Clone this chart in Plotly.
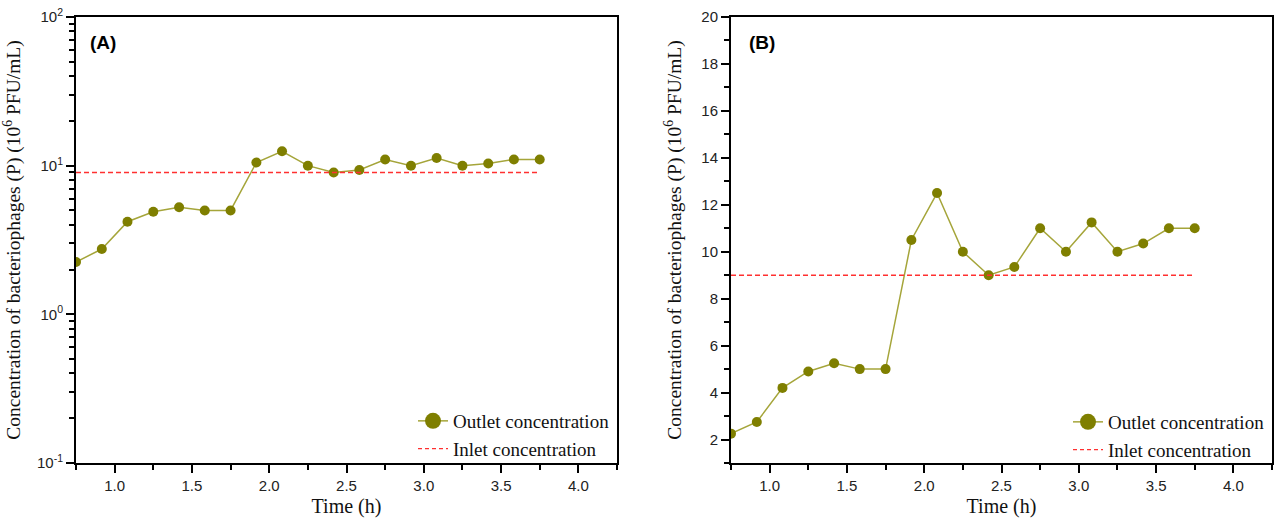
import plotly.graph_objects as go

# ---- data ----
time_h = [0.75, 0.917, 1.083, 1.25, 1.417, 1.583, 1.75, 1.917, 2.083, 2.25,
          2.417, 2.583, 2.75, 2.917, 3.083, 3.25, 3.417, 3.583, 3.75]
outlet = [2.25, 2.75, 4.2, 4.9, 5.25, 5.0, 5.0, 10.5, 12.5, 10.0,
          9.0, 9.35, 11.0, 10.0, 11.25, 10.0, 10.35, 11.0, 11.0]
inlet_time = [0.75, 3.75]
inlet = [9.0, 9.0]

log_tickvals = [0.1, 1, 10, 100]
log_ticktext = ["10<sup>-1</sup>", "10<sup>0</sup>", "10<sup>1</sup>", "10<sup>2</sup>"]
log_minor = [m * d for d in (0.1, 1, 10) for m in range(2, 10)]

# ---- styles ----
MARK = "#7f7f00"
LINE = "#a5a53a"
RED = "#ff3030"
SERIF = "Liberation Serif"
SANS = "Liberation Sans"
W, H = 1274, 520
ML, MR, MT, MB = 76, 2, 17, 57
PW, PH = W - ML - MR, H - MT - MB

def px_x(p):
    return (p - ML) / PW

def px_y(p):
    return (H - MB - p) / PH

fig = go.Figure()

for xa, ya, leg in (("x", "y", "legend"), ("x2", "y2", "legend2")):
    fig.add_trace(go.Scatter(x=time_h, y=outlet, mode="lines+markers", xaxis=xa, yaxis=ya,
                             line=dict(color=LINE, width=1.5),
                             marker=dict(color=MARK, size=10), showlegend=False))
    fig.add_trace(go.Scatter(x=inlet_time, y=inlet, mode="lines", xaxis=xa, yaxis=ya,
                             line=dict(color=RED, width=1.5, dash="5px,3px"), showlegend=False))
    # legend entries
    fig.add_trace(go.Scatter(x=[None], y=[None], mode="lines+markers", xaxis=xa, yaxis=ya,
                             name="Outlet concentration", legend=leg,
                             line=dict(color=LINE, width=1.5),
                             marker=dict(color=MARK, size=16)))
    fig.add_trace(go.Scatter(x=[None], y=[None], mode="lines", xaxis=xa, yaxis=ya,
                             name="Inlet concentration", legend=leg,
                             line=dict(color=RED, width=1.2, dash="4px,3px")))

axis_common = dict(showline=True, linewidth=2, linecolor="black", mirror=True,
                   ticks="outside", ticklen=8, tickwidth=2, tickcolor="black",
                   showgrid=False, zeroline=False,
                   tickfont=dict(family=SANS, size=15, color="#222"))

xcommon = dict(axis_common, range=[0.75, 4.25], tick0=1.0, dtick=0.5, tickformat=".1f",
               minor=dict(ticks="outside", ticklen=5, tickwidth=2, tickcolor="black",
                          tick0=0.75, dtick=0.25),
               title=dict(text="Time (h)", font=dict(family=SERIF, size=20, color="#111"),
                          standoff=6))

ytitle = "Concentration of bacteriophages (P) (10<sup>6</sup> PFU/mL)"

fig.update_layout(
    width=W, height=H,
    margin=dict(l=ML, r=MR, t=MT, b=MB, autoexpand=False),
    plot_bgcolor="white", paper_bgcolor="white",
    xaxis=dict(xcommon, domain=[0, px_x(617)], anchor="y"),
    xaxis2=dict(xcommon, domain=[px_x(731), 1.0], anchor="y2"),
    yaxis=dict(axis_common, type="log", range=[-1, 2], domain=[0, 1], anchor="x",
               tickmode="array", tickvals=log_tickvals, ticktext=log_ticktext,
               minor=dict(ticks="outside", ticklen=5, tickwidth=2, tickcolor="black",
                          tickmode="array", tickvals=log_minor),
               title=dict(text=ytitle, font=dict(family=SERIF, size=19.5, color="#111"),
                          standoff=11)),
    yaxis2=dict(axis_common, range=[1, 20], tick0=0, dtick=2, domain=[0, 1], anchor="x2",
                minor=dict(ticks="outside", ticklen=5, tickwidth=2, tickcolor="black",
                           tick0=1, dtick=1),
                title=dict(text=ytitle, font=dict(family=SERIF, size=19.5, color="#111"),
                           standoff=14)),
    legend=dict(x=px_x(413), y=px_y(402), xanchor="left", yanchor="top",
                bgcolor="rgba(0,0,0,0)", itemsizing="trace",
                font=dict(family=SERIF, size=19, color="#111")),
    legend2=dict(x=px_x(1068), y=px_y(403), xanchor="left", yanchor="top",
                 bgcolor="rgba(0,0,0,0)", itemsizing="trace",
                 font=dict(family=SERIF, size=19, color="#111")),
    annotations=[
        dict(text="<b>(A)</b>", x=px_x(102.5), y=px_y(42), xref="paper", yref="paper",
             xanchor="center", yanchor="middle",
             showarrow=False, font=dict(family=SANS, size=19, color="black")),
        dict(text="<b>(B)</b>", x=px_x(762), y=px_y(42), xref="paper", yref="paper",
             xanchor="center", yanchor="middle",
             showarrow=False, font=dict(family=SANS, size=19, color="black")),
    ],
)

fig.write_html("out.html")
